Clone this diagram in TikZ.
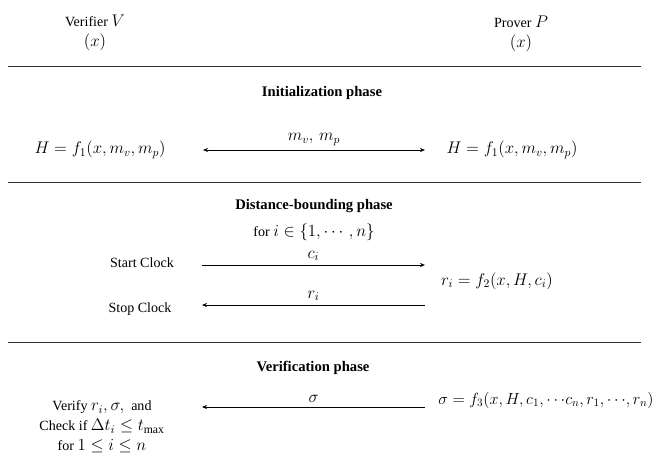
\documentclass[tikz,border=0pt]{standalone}
\usepackage{amsmath,amssymb}
\usepackage{fontspec}
\setmainfont{Liberation Serif}
\DeclareMathSizes{12}{14}{10}{7}
\usepackage{tikz}
\usetikzlibrary{arrows.meta, positioning}
\tikzset{
    party/.style={align=center, font=\fontsize{12}{17}\selectfont},
    phase/.style={font=\fontsize{12.5}{15}\selectfont\bfseries},
    label/.style={font=\fontsize{12}{15}\selectfont},
    sepline/.style={line width=0.6pt, color=black!80},
    msg/.style={-{Stealth[length=1.5mm, width=1.2mm]}, line width=0.5pt},
    bimsg/.style={{Stealth[length=1.5mm, width=1.2mm]}-{Stealth[length=1.5mm, width=1.2mm]}, line width=0.5pt}
}

\begin{document}
\begin{tikzpicture}[x=0.03cm, y=-0.03cm]
    \useasboundingbox (0,0) rectangle (662,462);

    % parties
    \node[party] (ver) at (95,33) {Verifier $V$\\$(x)$};
    \node[party] (prov) at (521,34) {Prover $P$\\$(x)$};
    \coordinate (l1a) at (8,66);
    \coordinate (l1b) at (641,66);
    \draw[sepline] (l1a) -- (l1b);

    % initialization
    \node[phase] (init) at (322,93) {Initialization phase};
    \node[label] (hv) at (100,150) {$H=f_1(x,m_v,m_p)$};
    \node[label] (hp) at (512,150) {$H=f_1(x,m_v,m_p)$};
    \coordinate (i1) at (203,150);
    \coordinate (i2) at (425,150);
    \draw[bimsg] (i1) -- node[label, above]{$m_v,\,m_p$} (i2);
    \coordinate (l2a) at (8,182);
    \coordinate (l2b) at (641,182);
    \draw[sepline] (l2a) -- (l2b);

    % distance bounding
    \node[phase] (db) at (314,206) {Distance-bounding phase};
    \node[label] (loop) at (314,232) {for $i\in\{1,\cdots,n\}$};
    \node[label] (start) at (142,263) {Start Clock};
    \node[label] (stop) at (140,309) {Stop Clock};
    \node[label] (resp) at (497,281) {$r_i=f_2(x,H,c_i)$};
    \coordinate (d1) at (202,265);
    \coordinate (d2) at (425,265);
    \coordinate (d3) at (425,305);
    \coordinate (d4) at (202,305);
    \draw[msg] (d1) -- node[label, above]{$c_i$} (d2);
    \draw[msg] (d3) -- node[label, above]{$r_i$} (d4);
    \coordinate (l3a) at (8,342);
    \coordinate (l3b) at (641,342);
    \draw[sepline] (l3a) -- (l3b);

    % verification
    \node[phase] (vp) at (313,368) {Verification phase};
    \node[label, scale=0.96, transform shape] (sig) at (546,400) {$\sigma=f_3(x,H,c_1,{\cdots}c_n,r_1,{\cdots},r_n)$};
    \node[party] (check) at (102,427) {Verify $r_i,\sigma,$~ and\\Check if $\Delta t_i\le t_{\max}$\\for $1\le i\le n$};
    \coordinate (v1) at (425,407);
    \coordinate (v2) at (202,407);
    \draw[msg] (v1) -- node[label, above]{$\sigma$} (v2);
\end{tikzpicture}
\end{document}
